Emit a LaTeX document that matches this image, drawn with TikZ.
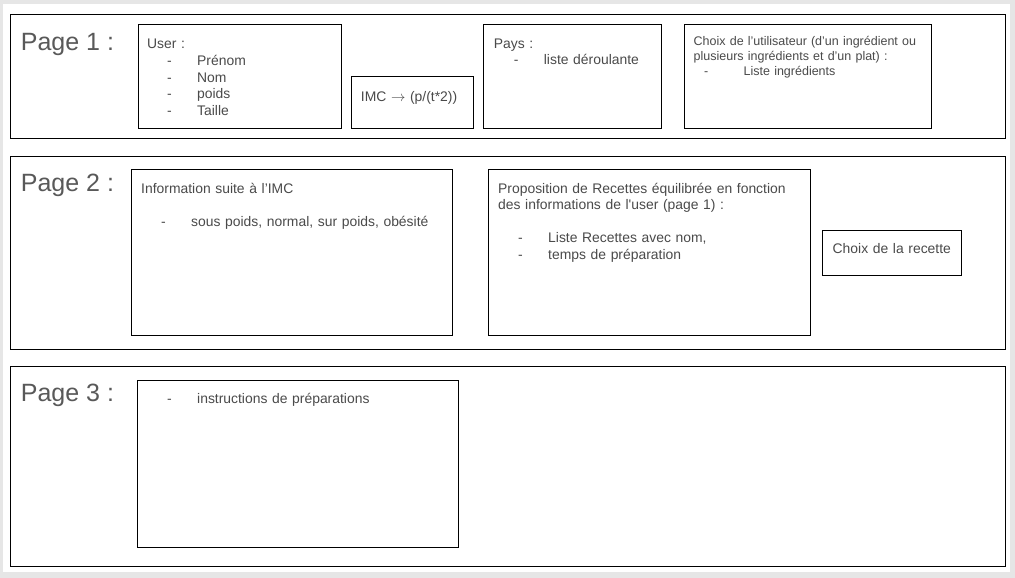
\documentclass[tikz,border=0pt]{standalone}
\usepackage{fontspec}
\newfontfamily\arialfont{Liberation Sans}
\usepackage{tikz}
\usetikzlibrary{positioning}
\definecolor{grisfond}{HTML}{E6E6E6}
\definecolor{gristexte}{HTML}{4A4A4A}
\definecolor{gristitre}{HTML}{595959}
\newcommand{\puce}[2][20pt]{\hspace*{#1}\makebox[\dimexpr 50pt-#1\relax][l]{-}#2}

\begin{document}
\begin{tikzpicture}[x=1pt, y=-1pt,
		cadre/.style={draw, line width=1pt, anchor=north west, inner sep=0pt, outer sep=0pt},
		page/.style={cadre, minimum width=995pt},
		contenu/.style={anchor=base west, inner sep=0pt, text=gristexte, text width=300pt, align=left, font=\arialfont\fontsize{13.9}{16.6}\selectfont},
		petit/.style={contenu, font=\arialfont\fontsize{12.5}{14.7}\selectfont},
		titrepage/.style={anchor=base west, inner sep=0pt, text=gristitre, font=\arialfont\fontsize{25}{30}\selectfont}]
				\useasboundingbox (0,0) rectangle (1015,578);
				\fill[grisfond] (0,0) rectangle (1015,578);
				\fill[white] (3,4) rectangle (1010,572);
				
				\node[page, minimum height=123pt] (p1) at (10,15) {};
				\node[page, minimum height=193pt] (p2) at (10,156) {};
				\node[page, minimum height=200pt] (p3) at (10,366) {};
				
				\node[titrepage] (t1) at ([shift={(10.7,35.7)}]p1.north west) {Page 1 :};
				\node[titrepage] (t2) at ([shift={(10.7,35.7)}]p2.north west) {Page 2 :};
				\node[titrepage] (t3) at ([shift={(10.7,35.7)}]p3.north west) {Page 3 :};
				
				\node[cadre, minimum width=203pt, minimum height=103pt] (user) at (138,25) {};
				\node[cadre, minimum width=122pt, minimum height=51pt] (imc) at (351,77) {};
				\node[cadre, minimum width=178pt, minimum height=103pt] (pays) at (483,25) {};
				\node[cadre, minimum width=247pt, minimum height=103pt] (choix) at (684,25) {};
				\node[cadre, minimum width=321pt, minimum height=166pt] (info) at (131,169) {};
				\node[cadre, minimum width=322pt, minimum height=166pt] (recettes) at (488,169) {};
				\node[cadre, minimum width=139pt, minimum height=45pt] (recette) at (822,230) {};
				\node[cadre, minimum width=321pt, minimum height=167pt] (instr) at (137,380) {};
				
				\node[contenu] (userT) at ([shift={(9,24)}]user.north west) {User :\\\puce{Prénom}\\\puce{Nom}\\\puce{poids}\\\puce{Taille}};
				\node[contenu] (imcT) at ([shift={(9.7,24.7)}]imc.north west) {IMC $\rightarrow$ (p/(t*2))};
				\node[contenu] (paysT) at ([shift={(10.7,23.3)}]pays.north west) {Pays :\\\puce{liste déroulante}};
				\node[petit] (choixT) at ([shift={(9.5,20.7)}]choix.north west) {Choix de l’utilisateur (d’un ingrédient ou\\plusieurs ingrédients et d’un plat) :\\\puce[10.5pt]{Liste ingrédients}};
				\node[contenu] (infoT) at ([shift={(10,24)}]info.north west) {Information suite à l’IMC\\[16.6pt]\puce{sous poids, normal, sur poids, obésité}};
				\node[contenu] (recettesT) at ([shift={(10,24)}]recettes.north west) {Proposition de Recettes équilibrée en fonction\\des informations de l'user (page 1) :\\[16.6pt]\puce{Liste Recettes avec nom,}\\\puce{temps de préparation}};
				\node[contenu] (recetteT) at ([shift={(10.5,23.3)}]recette.north west) {Choix de la recette};
				\node[contenu] (instrT) at ([shift={(10,23.3)}]instr.north west) {\puce{instructions de préparations}};
			\end{tikzpicture}
\end{document}
